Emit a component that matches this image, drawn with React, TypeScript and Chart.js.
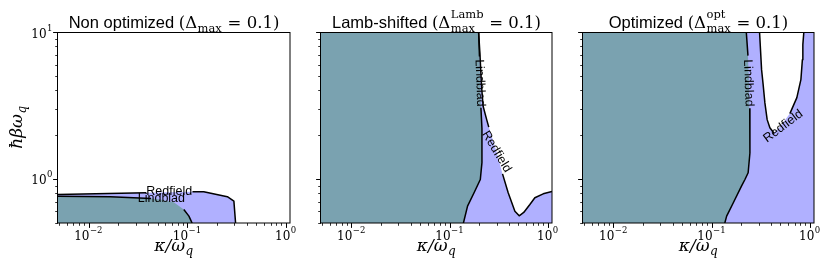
import React, { useEffect, useRef } from 'react';
import { Chart, registerables } from 'chart.js';

Chart.register(...registerables);

// ---------- axis ranges and ticks ----------
const X_RANGE = [0.0049, 1.1];
const Y_RANGE = [0.5, 10];

const X_MAJOR = [0.01, 0.1, 1];
const X_MAJOR_EXP = ['\u22122', '\u22121', '0'];
const X_MINOR = [0.005, 0.006, 0.007, 0.008, 0.009, 0.02, 0.03, 0.04, 0.05, 0.06, 0.07, 0.08, 0.09, 0.2, 0.3, 0.4, 0.5, 0.6, 0.7, 0.8, 0.9];
const Y_MAJOR = [1, 10];
const Y_MAJOR_EXP = ['0', '1'];
const Y_MINOR = [0.5, 0.6, 0.7, 0.8, 0.9, 2, 3, 4, 5, 6, 7, 8, 9];

// ---------- contours: [kappa/omega_q, hbar*beta*omega_q] ----------
// Panel 1: non optimized
const NONOPT_REDFIELD = [[0.0049, 0.782], [0.0385, 0.803], [0.066, 0.81], [0.113, 0.815], [0.147, 0.816], [0.255, 0.755], [0.297, 0.705], [0.309, 0.5]];
const NONOPT_REDFIELD_GAP = [2];
const NONOPT_LINDBLAD = [[0.0049, 0.762], [0.0166, 0.755], [0.043, 0.735], [0.0535, 0.723], [0.073, 0.693], [0.0923, 0.618], [0.104, 0.557], [0.112, 0.5]];
const NONOPT_LINDBLAD_GAP = [3, 4];

// Panel 2: Lamb-shifted
const LAMB_REDFIELD = [[0.197, 10], [0.203, 7.19], [0.211, 4.27], [0.219, 3.12], [0.238, 2.53], [0.25, 2.25], [0.3, 1.53], [0.345, 1.08], [0.394, 0.803], [0.461, 0.602], [0.51, 0.56], [0.567, 0.59], [0.655, 0.668], [0.736, 0.743], [0.895, 0.79], [1.1, 0.82]];
const LAMB_REDFIELD_GAP = [6];
const LAMB_LINDBLAD = [[0.197, 10], [0.201, 6.8], [0.204, 4.5], [0.208, 3.05], [0.213, 2.2], [0.213, 1.29], [0.205, 0.989], [0.177, 0.803], [0.152, 0.651], [0.138, 0.5]];
const LAMB_LINDBLAD_GAP = [2];

// Panel 3: optimized
const OPT_REDFIELD = [[0.307, 10], [0.322, 5.54], [0.334, 4.38], [0.348, 3.29], [0.367, 2.53], [0.391, 2.23], [0.43, 2.05], [0.494, 2.25], [0.625, 2.78], [0.736, 3.57], [0.809, 4.74], [0.838, 6.48], [0.847, 8.2], [0.867, 10]];
const OPT_REDFIELD_GAP = [7];
const OPT_LINDBLAD = [[0.225, 10], [0.234, 6.9], [0.24, 4.5], [0.244, 3.0], [0.245, 2.53], [0.245, 1.5], [0.235, 1.1], [0.218, 0.989], [0.201, 0.891], [0.166, 0.687], [0.142, 0.557], [0.136, 0.5]];
const OPT_LINDBLAD_GAP = [2];

// contour label anchors [text, x, y]
const NONOPT_LABELS = [['Redfield', 0.0656, 0.813], ['Lindblad', 0.0547, 0.729]];
const LAMB_LABELS = [['Lindblad', 0.203, 4.5], ['Redfield', 0.3, 1.53]];
const OPT_LABELS = [['Lindblad', 0.236, 4.5], ['Redfield', 0.535, 2.28]];

// ---------- styling / layout ----------
const W = 830;
const H = 277;
const PANEL_LEFT = [58, 321, 583];
const PANEL_RIGHT = [290, 552, 814];
const PANEL_TOP = 32;
const PANEL_BOTTOM = 223;
const LABEL_ANGLES = [[0, 0], [88, 59], [88, -37]];

const REDFIELD_COLOR = '#b0b0ff';
const LINDBLAD_COLOR = '#7aa2b0';
const SANS = '"Liberation Sans", Arial, sans-serif';
const SERIF = '"DejaVu Serif", "Liberation Serif", serif';

type Run = { text?: string; font?: string; sup?: string; sub?: string; scriptFont?: string };

const TITLES: Run[][] = [
  [
    { text: 'Non optimized ', font: `16.5px ${SANS}` },
    { text: '(\u0394', font: `16.5px ${SERIF}` },
    { sub: 'max', scriptFont: `11.5px ${SERIF}` },
    { text: ' = 0.1)', font: `16.5px ${SERIF}` },
  ],
  [
    { text: 'Lamb-shifted ', font: `16.5px ${SANS}` },
    { text: '(\u0394', font: `16.5px ${SERIF}` },
    { sup: 'Lamb', sub: 'max', scriptFont: `11.5px ${SERIF}` },
    { text: ' = 0.1)', font: `16.5px ${SERIF}` },
  ],
  [
    { text: 'Optimized ', font: `16.5px ${SANS}` },
    { text: '(\u0394', font: `16.5px ${SERIF}` },
    { sup: 'opt', sub: 'max', scriptFont: `11.5px ${SERIF}` },
    { text: ' = 0.1)', font: `16.5px ${SERIF}` },
  ],
];

const X_TITLE: Run[] = [
  { text: '\u03ba/\u03c9', font: `italic 17px ${SERIF}` },
  { sub: 'q', scriptFont: `italic 12px ${SERIF}` },
];
const Y_TITLE: Run[] = [
  { text: '\u0127\u03b2\u03c9', font: `italic 17px ${SERIF}` },
  { sub: 'q', scriptFont: `italic 12px ${SERIF}` },
];

function runWidth(ctx: CanvasRenderingContext2D, r: Run): number {
  if (r.text !== undefined) {
    ctx.font = r.font!;
    return ctx.measureText(r.text).width;
  }
  ctx.font = r.scriptFont!;
  const a = r.sup ? ctx.measureText(r.sup).width : 0;
  const b = r.sub ? ctx.measureText(r.sub).width : 0;
  return Math.max(a, b) + 1;
}

function drawRuns(
  ctx: CanvasRenderingContext2D,
  runs: Run[],
  x: number,
  baseline: number,
  align: 'center' | 'right',
  supDy: number,
  subDy: number,
) {
  const widths = runs.map((r) => runWidth(ctx, r));
  const total = widths.reduce((s, v) => s + v, 0);
  let cx = align === 'center' ? x - total / 2 : x - total;
  ctx.textAlign = 'left';
  ctx.textBaseline = 'alphabetic';
  runs.forEach((r, i) => {
    if (r.text !== undefined) {
      ctx.font = r.font!;
      ctx.fillText(r.text, cx, baseline);
    } else {
      ctx.font = r.scriptFont!;
      if (r.sup) ctx.fillText(r.sup, cx + 0.5, baseline + supDy);
      if (r.sub) ctx.fillText(r.sub, cx + 0.5, baseline + subDy);
    }
    cx += widths[i];
  });
}

const toXY = (pts: number[][]) => pts.map(([x, y]) => ({ x, y }));
const withGaps = (pts: number[][], gap: number[]) =>
  pts.map(([x, y], i) => ({ x, y: gap.includes(i) ? null : y }));

function buildPanel(i: number) {
  const [x0, x1] = X_RANGE;
  const [y0, y1] = Y_RANGE;
  let red: number[][], lind: number[][], redGap: number[], lindGap: number[], labels: any[];
  let redPoly: number[][], lindPoly: number[][];
  if (i === 0) {
    red = NONOPT_REDFIELD; lind = NONOPT_LINDBLAD; redGap = NONOPT_REDFIELD_GAP; lindGap = NONOPT_LINDBLAD_GAP; labels = NONOPT_LABELS;
    redPoly = [[x0, y0], ...red];
    lindPoly = [[x0, y0], ...lind];
  } else if (i === 1) {
    red = LAMB_REDFIELD; lind = LAMB_LINDBLAD; redGap = LAMB_REDFIELD_GAP; lindGap = LAMB_LINDBLAD_GAP; labels = LAMB_LABELS;
    redPoly = [[x0, y0], [x0, y1], ...red, [x1, y0]];
    lindPoly = [[x0, y0], [x0, y1], ...lind];
  } else {
    red = OPT_REDFIELD; lind = OPT_LINDBLAD; redGap = OPT_REDFIELD_GAP; lindGap = OPT_LINDBLAD_GAP; labels = OPT_LABELS;
    redPoly = [[x0, y0], [x0, y1], ...red, [x1, y1], [x1, y0]];
    lindPoly = [[x0, y0], [x0, y1], ...lind];
  }
  const common = { pointRadius: 0, tension: 0, borderJoinStyle: 'round' as const };
  const datasets = [
    { ...common, label: 'Redfield region', data: toXY(redPoly), fill: 'shape', backgroundColor: REDFIELD_COLOR, borderWidth: 0, borderColor: 'rgba(0,0,0,0)', order: 4 },
    { ...common, label: 'Lindblad region', data: toXY(lindPoly), fill: 'shape', backgroundColor: LINDBLAD_COLOR, borderWidth: 0, borderColor: 'rgba(0,0,0,0)', order: 3 },
    { ...common, label: 'Redfield', data: withGaps(red, redGap), fill: false, borderColor: '#000', borderWidth: 1.5, spanGaps: false, order: 2 },
    { ...common, label: 'Lindblad', data: withGaps(lind, lindGap), fill: false, borderColor: '#000', borderWidth: 1.5, spanGaps: false, order: 1 },
  ];
  return { datasets, labels };
}

function makeOverlay(i: number, labels: any[]) {
  return {
    id: 'overlay' + i,
    afterDraw(chart: any) {
      const ctx: CanvasRenderingContext2D = chart.ctx;
      const { left, right, top, bottom } = chart.chartArea;
      const xs = chart.scales.x;
      const ys = chart.scales.y;
      ctx.save();
      ctx.fillStyle = '#000';
      ctx.strokeStyle = '#000';

      // contour labels
      labels.forEach(([text, x, y], k) => {
        const px = xs.getPixelForValue(x);
        const py = ys.getPixelForValue(y);
        ctx.save();
        ctx.translate(px, py);
        ctx.rotate((LABEL_ANGLES[i][k] * Math.PI) / 180);
        ctx.font = `12.5px ${SANS}`;
        ctx.textAlign = 'center';
        ctx.textBaseline = 'middle';
        ctx.fillText(text, 0, 0);
        ctx.restore();
      });

      // frame
      ctx.lineWidth = 1;
      ctx.strokeRect(Math.round(left) - 0.5, Math.round(top) + 0.5, Math.round(right - left) + 0.5, Math.round(bottom - top) - 0.5);

      // ticks
      const xTick = (v: number, len: number, lw: number) => {
        const px = Math.round(xs.getPixelForValue(v)) + 0.5;
        ctx.lineWidth = lw;
        ctx.beginPath();
        ctx.moveTo(px, bottom);
        ctx.lineTo(px, bottom + len);
        ctx.stroke();
      };
      const yTick = (v: number, len: number, lw: number) => {
        const py = Math.round(ys.getPixelForValue(v)) + 0.5;
        ctx.lineWidth = lw;
        ctx.beginPath();
        ctx.moveTo(left, py);
        ctx.lineTo(left - len, py);
        ctx.stroke();
      };
      X_MINOR.forEach((v) => xTick(v, 2.8, 0.8));
      X_MAJOR.forEach((v) => xTick(v, 4.9, 1));
      Y_MINOR.forEach((v) => yTick(v, 2.8, 0.8));
      Y_MAJOR.forEach((v) => yTick(v, 4.9, 1));

      // tick labels
      X_MAJOR.forEach((v, k) => {
        const px = xs.getPixelForValue(v);
        drawRuns(ctx, [{ text: '10', font: `12px ${SERIF}` }, { sup: X_MAJOR_EXP[k], scriptFont: `8.5px ${SERIF}` }], px, bottom + 17, 'center', -7.5, 0);
      });
      if (i === 0) {
        Y_MAJOR.forEach((v, k) => {
          const py = ys.getPixelForValue(v);
          drawRuns(ctx, [{ text: '10', font: `12px ${SERIF}` }, { sup: Y_MAJOR_EXP[k], scriptFont: `8.5px ${SERIF}` }], left - 5, py + 5.5, 'right', -7, 0);
        });
        // y title
        ctx.save();
        ctx.translate(22, 127);
        ctx.rotate(-Math.PI / 2);
        drawRuns(ctx, Y_TITLE, 0, 0, 'center', 0, 3.5);
        ctx.restore();
      }

      // x title
      drawRuns(ctx, X_TITLE, (left + right) / 2, 251, 'center', 0, 3.5);

      // panel title
      drawRuns(ctx, TITLES[i], (left + right) / 2, 28, 'center', -10.5, 3.5);

      ctx.restore();
    },
  };
}

export default function App() {
  const refs = [useRef<HTMLCanvasElement>(null), useRef<HTMLCanvasElement>(null), useRef<HTMLCanvasElement>(null)];

  useEffect(() => {
    const charts: Chart[] = [];
    refs.forEach((ref, i) => {
      if (!ref.current) return;
      const { datasets, labels } = buildPanel(i);
      const chart = new Chart(ref.current, {
        type: 'line',
        data: { datasets: datasets as any },
        options: {
          responsive: false,
          maintainAspectRatio: false,
          devicePixelRatio: 1,
          animation: false,
          events: [],
          layout: {
            padding: {
              left: PANEL_LEFT[i],
              right: W - PANEL_RIGHT[i],
              top: PANEL_TOP,
              bottom: H - PANEL_BOTTOM,
            },
          },
          plugins: {
            legend: { display: false },
            tooltip: { enabled: false },
            title: { display: false },
          },
          scales: {
            x: { type: 'logarithmic', min: X_RANGE[0], max: X_RANGE[1], display: false },
            y: { type: 'logarithmic', min: Y_RANGE[0], max: Y_RANGE[1], display: false },
          },
        },
        plugins: [makeOverlay(i, labels)],
      });
      charts.push(chart);
    });
    return () => charts.forEach((c) => c.destroy());
  }, []);

  return (
    <div style={{ position: 'absolute', left: 0, top: 0, width: W, height: H, background: '#fff' }}>
      {refs.map((ref, i) => (
        <canvas
          key={i}
          ref={ref}
          width={W}
          height={H}
          style={{ position: 'absolute', left: 0, top: 0, width: W, height: H }}
        />
      ))}
    </div>
  );
}
